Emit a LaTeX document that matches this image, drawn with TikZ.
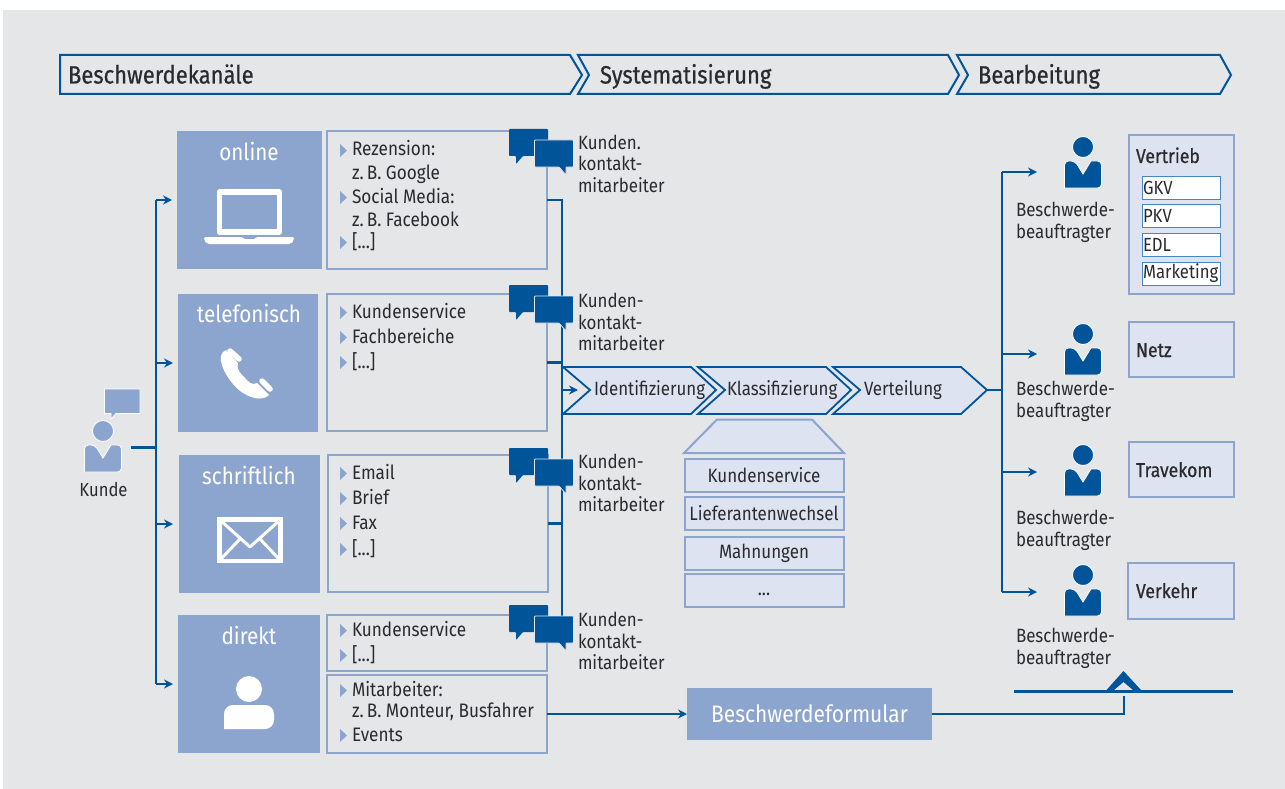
\documentclass[tikz,border=0pt]{standalone}
\usepackage{fontspec}
\setmainfont{Fira Sans}[FakeStretch=0.88]
\newfontfamily\headfont{Fira Sans}[FakeStretch=0.88,FakeBold=0.6]
\usetikzlibrary{arrows.meta,calc}
\definecolor{bluedark}{HTML}{00549A}
\definecolor{bluemid}{HTML}{8CA5CE}
\definecolor{bluepale}{HTML}{DDE3F0}
\definecolor{bggrey}{HTML}{E5E6E8}
\definecolor{inktext}{HTML}{2B2A2E}
\definecolor{bluethin}{HTML}{4A86BE}
\newcommand{\fs}[2]{\fontsize{#1}{#2}\selectfont}
\newcommand{\personicon}[3]{%
 \begin{scope}[shift={(#1,#2)}]
  \fill[#3,draw=white,line width=0.8pt] (0,-41) circle (10.5);
  \fill[#3,draw=white,line width=0.8pt,rounded corners=4pt] (-18.5,0) -- (-18.5,-27) -- (-8,-27) [sharp corners] -- (0,-14) -- (8,-27) [rounded corners=4pt] -- (18.5,-27) -- (18.5,0) [sharp corners] -- cycle;
 \end{scope}}
\newcommand{\bubbles}[1]{%
 \begin{scope}[shift={(509,#1)}]
  \fill[bluedark,rounded corners=0.8pt] (0,0) -- (39,0) -- (39,27) -- (14,27) -- (7,35) -- (7,27) -- (0,27) -- cycle;
  \fill[bluedark,draw=bggrey,line width=0.8pt,rounded corners=0.8pt] (25.5,11) -- (64.5,11) -- (64.5,38) -- (57,38) -- (57,46) -- (50,38) -- (25.5,38) -- cycle;
 \end{scope}}
\tikzset{
 every node/.style={outer sep=0pt},
 canvas/.style={fill=bggrey,draw=none},
 headarrow/.style={draw=bluedark,fill=bggrey,line width=2pt,line join=miter},
 headtext/.style={anchor=base west,inner sep=0pt,text=inktext,font=\headfont\fs{25}{28}},
 channel/.style={anchor=north west,fill=bluemid,inner sep=0pt,draw=none},
 chanlabel/.style={text=white,inner sep=0pt,font=\fs{23.5}{26}},
 detail/.style={anchor=north west,draw=bluemid,fill=bggrey,line width=1.5pt,inner sep=0pt},
 item/.style={anchor=base west,inner sep=0pt,text=inktext,font=\fs{19.5}{23}},
 role/.style={anchor=north west,inner sep=0pt,align=left,text=inktext,font=\fs{19.2}{21.6}},
 flow/.style={draw=bluedark,line width=2.4pt},
 flowarrow/.style={flow,-{Stealth[length=9pt,width=9pt,inset=3pt]}},
 thinarrow/.style={draw=bluedark,line width=2pt,-{Stealth[length=9pt,width=9pt,inset=3pt]}},
 procstep/.style={draw=bluedark,fill=bluepale,line width=1.8pt,line join=miter},
 proctext/.style={inner sep=0pt,text=inktext,font=\fs{19.2}{23},anchor=base west},
 stackbox/.style={anchor=north west,draw=bluemid,fill=bluepale,line width=2pt,inner sep=0pt,minimum width=159pt,text=inktext,font=\fs{19.3}{23}},
 dept/.style={anchor=north west,draw=bluemid,fill=bluepale,line width=2pt,inner sep=0pt},
 depttext/.style={anchor=base west,inner sep=0pt,text=inktext,font=\headfont\fs{20}{23}},
 subdept/.style={anchor=north west,draw=bluethin,fill=white,line width=1pt,inner sep=0pt,minimum width=78pt,minimum height=23pt,text=inktext,font=\fs{19}{21}},
}
\begin{document}
\begin{tikzpicture}[x=1pt,y=-1pt]
\useasboundingbox (0,0) rectangle (1285,789);
\fill[white] (0,0) rectangle (1285,789);
\fill[canvas] (3,10) rectangle (1285,789);
% header
\draw[headarrow] (60,55) -- (570,55) -- (582,75) -- (570,94) -- (60,94) -- cycle;
\draw[headarrow] (578,55) -- (948,55) -- (959,75) -- (948,94) -- (578,94) -- (589,75) -- cycle;
\draw[headarrow] (957,55) -- (1220,55) -- (1231,75) -- (1220,94) -- (957,94) -- (968,75) -- cycle;
\node[headtext] (h1) at (68,83.5) {Beschwerdekanäle};
\node[headtext] (h2) at (600,83.5) {Systematisierung};
\node[headtext] (h3) at (978,83.5) {Bearbeitung};
% channel boxes
\node[channel,minimum width=145pt,minimum height=138pt] (online) at (177,131) {};
\node[channel,minimum width=140pt,minimum height=138pt] (tel) at (178,294) {};
\node[channel,minimum width=141pt,minimum height=138pt] (schr) at (179,455) {};
\node[channel,minimum width=142pt,minimum height=138pt] (dir) at (178,615) {};
\node[chanlabel] (lonline) at (249,151) {online};
\node[chanlabel] (ltel) at (249,313) {telefonisch};
\node[chanlabel] (lschr) at (249,475) {schriftlich};
\node[chanlabel] (ldir) at (249,635) {direkt};
% detail boxes
\node[detail,minimum width=220pt,minimum height=138pt] (d1) at (327,131) {};
\node[detail,minimum width=220pt,minimum height=137pt] (d2) at (327,294) {};
\node[detail,minimum width=220pt,minimum height=137pt] (d3) at (328,455) {};
\node[detail,minimum width=220pt,minimum height=56pt] (d4) at (327,615) {};
\node[detail,minimum width=220pt,minimum height=78pt] (d5) at (327,675) {};
% items with bullets
\foreach \n/\y/\t in {a/156/Rezension:,c/203/Social Media:,e/248/{[...]},f/318/Kundenservice,g/343/Fachbereiche,h/368/{[...]},i/479/Email,j/504/Brief,k/529/Fax,l/555/{[...]},m/636/Kundenservice,n/661/{[...]},o/696/Mitarbeiter:,q/741/Events}{
 \fill[bluemid] (340,\y-12) -- (347,\y-5.5) -- (340,\y+1) -- cycle;
 \node[item] (it\n) at (352,\y) {\t};
}
\node[item] (itb) at (352,179) {z.\,B. Google};
\node[item] (itd) at (352,226) {z.\,B. Facebook};
\node[item] (itp) at (352,717) {z.\,B. Monteur, Busfahrer};
% icons: laptop
\draw[white,line width=5.5pt,line join=round] (219.5,192) rectangle (279.5,232);
\fill[white,rounded corners=2pt] (204,237) -- (243,237) -- (243,239) -- (256,239) -- (256,237) -- (294,237) -- (294,240) -- (291,244) -- (207,244) -- (204,240) -- cycle;
% icons: phone
\fill[white] (221,356) .. controls (219,367) and (232,386) .. (243,393) .. controls (254,400) and (264,400) .. (269,395) -- (257,383) .. controls (252,386) and (249,382) .. (245,378) .. controls (240,373) and (236,369) .. (238,363) -- (226,350) .. controls (223,351) and (222,353) .. (221,356) -- cycle;
\draw[white,line width=5.5pt,line cap=round] (230,351) -- (239,359);
\draw[white,line width=5.5pt,line cap=round] (262,381) -- (270,389);
% icons: envelope
\draw[white,line width=4.5pt,line join=miter] (219.5,519.5) rectangle (280.5,561);
\draw[white,line width=3pt,line join=round] (220,520) -- (250,547) -- (280,520);
\draw[white,line width=3pt] (220,560) -- (240,539) (280,560) -- (260,539);
% icons: direct
\fill[white] (249,689) circle (13);
\fill[white,rounded corners=9pt] (224,729) -- (224,705) -- (274,705) -- (274,729) [sharp corners] -- cycle;
% Kunde
\personicon{103}{472}{bluemid}
\fill[bluemid,draw=white,line width=0.8pt] (104.5,389) -- (140,389) -- (140,413.5) -- (116,413.5) -- (111,419) -- (111,413.5) -- (104.5,413.5) -- cycle;
\node[anchor=base,inner sep=0pt,text=inktext,font=\fs{18.9}{20}] (kunde) at (103.5,496) {Kunde};
% left connectors
\coordinate (kout) at (131,447.5);
\coordinate (trunkl) at (156,447.5);
\draw[bluedark,line width=3pt] (kout) -- (trunkl);
\draw[flowarrow,shorten >=5pt] (trunkl |- online.west) -- (online.west);
\draw[flowarrow,shorten >=5pt] (trunkl |- tel.west) -- (tel.west);
\draw[flowarrow,shorten >=6pt] (trunkl |- schr.west) -- (schr.west);
\draw[flowarrow,shorten >=5pt] (trunkl |- dir.west) -- (dir.west);
\draw[flow,line cap=square] (trunkl |- online.west) -- (trunkl |- dir.west);
% middle trunk
\coordinate (trunkm) at (562,390);
\coordinate (trunkmtop) at (562,200);
\coordinate (trunkmbot) at (562,618);
\draw[flow,line join=miter] (d1.east) -- (trunkmtop) -- (trunkmbot);
\draw[flow] (d2.east) -- (trunkm |- d2.east);
\draw[flow] (d3.east) -- (trunkm |- d3.east);
\bubbles{129}\bubbles{285}\bubbles{448}\bubbles{605}
\node[role] (r1) at (578,135) {Kunden.\\kontakt-\\mitarbeiter};
\node[role] (r2) at (578,293) {Kunden-\\kontakt-\\mitarbeiter};
\node[role] (r3) at (578,454) {Kunden-\\kontakt-\\mitarbeiter};
\node[role] (r4) at (578,612) {Kunden-\\kontakt-\\mitarbeiter};
% process chevrons
\draw[procstep] (563,367) -- (691,367) -- (716,390) -- (691,414) -- (563,414) -- (590,390) -- cycle;
\draw[procstep] (698,367) -- (826,367) -- (851,390) -- (826,414) -- (698,414) -- (725,390) -- cycle;
\draw[procstep] (833,367) -- (961,367) -- (987,390) -- (961,414) -- (833,414) -- (860,390) -- cycle;
\coordinate (ident) at (578,390);
\draw[flowarrow] (trunkm) -- (ident);
\node[proctext] (p1) at (594,395.5) {Identifizierung};
\node[proctext] (p2) at (727,395.5) {Klassifizierung};
\node[proctext] (p3) at (864,395.5) {Verteilung};
% stack
\draw[draw=bluemid,fill=bluepale,line width=2pt] (717,419.5) -- (812,419.5) -- (844,453) -- (684,453) -- cycle;
\node[stackbox,minimum height=33pt] (s1) at (684.5,458.5) {Kundenservice};
\node[stackbox,minimum height=33pt] (s2) at (684.5,497) {Lieferantenwechsel};
\node[stackbox,minimum height=33pt] (s3) at (684.5,536.5) {Mahnungen};
\node[stackbox,minimum height=33pt] (s4) at (684.5,573.5) {\raisebox{-11pt}{...}};
% right trunk
\coordinate (procout) at (987,390);
\coordinate (trunkr) at (1002,390);
\coordinate (pa) at (1037,172);
\coordinate (pb) at (1037,354);
\coordinate (pc) at (1037,472);
\coordinate (pd) at (1037,592);
\draw[flow] (procout) -- (trunkr);
\draw[thinarrow] (trunkr |- pa) -- (pa);
\draw[thinarrow] (trunkr |- pb) -- (pb);
\draw[thinarrow] (trunkr |- pc) -- (pc);
\draw[thinarrow] (trunkr |- pd) -- (pd);
\draw[flow,line cap=square] (trunkr |- pa) -- (trunkr |- pd);
% Persons
\personicon{1083}{188}{bluedark}
\personicon{1083}{375}{bluedark}
\personicon{1083}{496}{bluedark}
\personicon{1083}{616}{bluedark}
\node[role] (b1) at (1016,202) {Beschwerde-\\beauftragter};
\node[role] (b2) at (1016,381) {Beschwerde-\\beauftragter};
\node[role] (b3) at (1016,510) {Beschwerde-\\beauftragter};
\node[role] (b4) at (1016,628) {Beschwerde-\\beauftragter};
% departments
\node[dept,minimum width=105pt,minimum height=159pt] (vt) at (1129,135) {};
\node[dept,minimum width=105pt,minimum height=55pt] (nz) at (1129,322) {};
\node[dept,minimum width=105pt,minimum height=55pt] (tk) at (1129,442) {};
\node[dept,minimum width=106pt,minimum height=56pt] (vk) at (1128,563) {};
\node[depttext] (tvt) at (1136,163) {Vertrieb};
\node[depttext] (tnz) at (1136,357) {Netz};
\node[depttext] (ttk) at (1136,477) {Travekom};
\node[depttext] (tvk) at (1136,598) {Verkehr};
\foreach \n/\y/\t in {a/176/GKV,b/204.5/PKV,c/233/EDL,d/262/Marketing}{
 \node[subdept,text width=76pt,align=left] (sd\n) at (1142,\y) {\t};
}
% form
\node[anchor=north west,fill=bluemid,inner sep=0pt,minimum width=245pt,minimum height=52pt,text=white,font=\fs{23.8}{27}] (form) at (687,688) {\raisebox{1pt}{Beschwerdeformular}};
\coordinate (receipt) at (1124,696);
\draw[flowarrow] (d5.east |- form.west) -- (form.west);
\draw[flow] (form.east) -| (receipt);
\coordinate (bl) at (1014,691);
\coordinate (br) at (1233,691);
\draw[bluedark,line width=3pt] (bl) -- (br);
\fill[bluedark] (1106.5,690) -- (1123.5,671) -- (1141,690) -- (1133,690) -- (1123.5,682) -- (1114,690) -- cycle;
\end{tikzpicture}
\end{document}
